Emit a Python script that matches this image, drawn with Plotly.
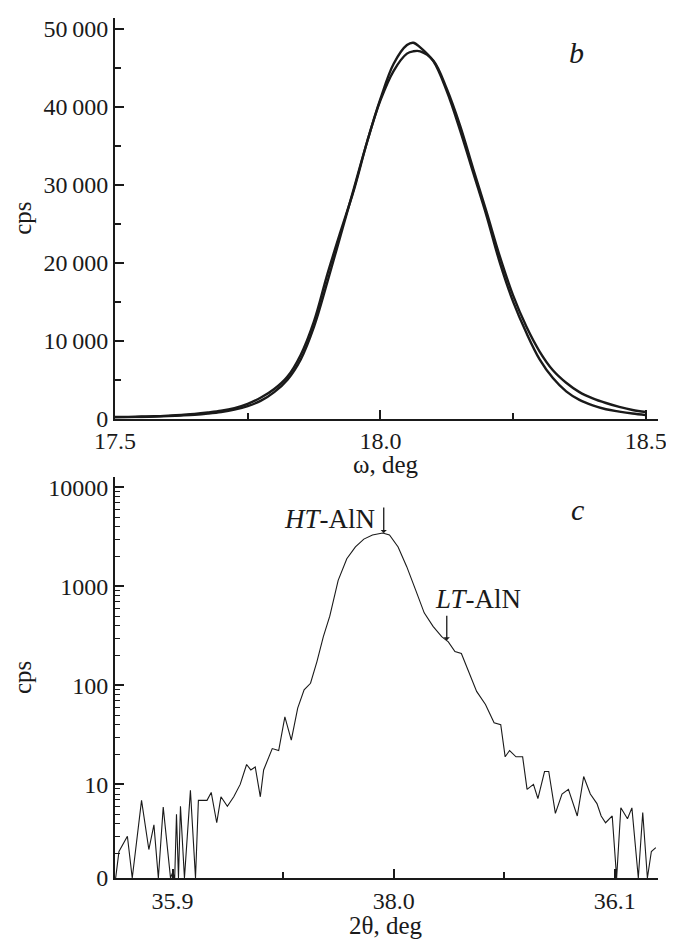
import math
import plotly.graph_objects as go
from plotly.subplots import make_subplots

# panel b : omega scans (two curves)
omega = [17.500, 17.525, 17.550, 17.575, 17.600, 17.625, 17.650, 17.675, 17.700,
         17.725, 17.750, 17.775, 17.800, 17.825, 17.850, 17.875, 17.900, 17.925,
         17.950, 17.975, 18.000, 18.025, 18.050, 18.062, 18.075, 18.100, 18.125,
         18.150, 18.175, 18.200, 18.225, 18.250, 18.275, 18.300, 18.325, 18.350,
         18.375, 18.400, 18.425, 18.450, 18.475, 18.500]
cps_b1 = [200, 220, 260, 300, 380, 480, 600, 780, 1000,
          1350, 1900, 2700, 3800, 5400, 8200, 12500, 18500, 24000,
          29300, 35500, 41000, 45500, 47900, 48200, 47600, 45800, 42000,
          37000, 31500, 26000, 20000, 15000, 11000, 7600, 5200, 3500,
          2400, 1700, 1200, 900, 650, 450]
cps_b2 = [150, 170, 200, 250, 320, 400, 500, 650, 850,
          1150, 1600, 2300, 3400, 5000, 7600, 11800, 17500, 23500,
          29500, 35500, 40800, 44600, 46800, 47100, 47100, 45900, 42300,
          37600, 32000, 26500, 20800, 15800, 11800, 8600, 6200, 4600,
          3400, 2600, 2000, 1500, 1100, 850]

# panel c : 2theta scan, counts (0 = no counts)
two_theta = [35.8743, 35.8758, 35.8796, 35.8818, 35.8860, 35.8893, 35.8916, 35.8936,
             35.8958, 35.8991, 35.9001, 35.9010, 35.9018, 35.9027, 35.9036, 35.9054,
             35.9081, 35.9104, 35.9117, 35.9156, 35.9175, 35.9200, 35.9219, 35.9248,
             35.9277, 35.9306, 35.9335, 35.9354, 35.9374, 35.9397, 35.9412, 35.9451,
             35.9480, 35.9508, 35.9537, 35.9566, 35.9595, 35.9624, 35.9653, 35.9682,
             35.9711, 35.9749, 35.9788, 35.9827, 35.9865, 35.9904, 35.9950, 35.9981,
             36.0020, 36.0059, 36.0099, 36.0138, 36.0178, 36.0217, 36.0247, 36.0277,
             36.0306, 36.0336, 36.0375, 36.0415, 36.0454, 36.0484, 36.0504, 36.0524,
             36.0553, 36.0583, 36.0603, 36.0632, 36.0652, 36.0682, 36.0701, 36.0731,
             36.0761, 36.0790, 36.0810, 36.0830, 36.0859, 36.0889, 36.0919, 36.0938,
             36.0958, 36.0988, 36.1008, 36.1027, 36.1057, 36.1077, 36.1106, 36.1126,
             36.1147, 36.1165, 36.1185]
cps_c = [0, 2.1, 3, 0, 6.9, 2.2, 3.9, 0,
         5.9, 0, 1.3, 0, 5, 0, 6, 0,
         8.7, 0, 6.9, 6.9, 8.3, 4.1, 7.5, 6,
         7.5, 10, 15.9, 14, 15, 7.5, 14, 23,
         22, 48, 28, 59, 90, 105, 174, 310,
         500, 1150, 1900, 2500, 3000, 3300, 3450, 3300,
         2500, 1580, 920, 540, 394, 310, 275, 220,
         210, 145, 87, 64, 42, 40, 19, 22,
         19, 19, 8.9, 10, 7.2, 13.5, 13.5, 5.1,
         8, 8.9, 6.4, 4.8, 12, 8, 6.4, 4.8,
         4.1, 4.8, 0, 5.8, 4.5, 5.8, 0, 5.2,
         0, 2.1, 2.3]

b_ticks = [0, 10000, 20000, 30000, 40000, 50000]
b_ticktext = ["0", "10\u2009000", "20\u2009000", "30\u2009000", "40\u2009000", "50\u2009000"]
c_ticks_x = [35.9, 36.0, 36.1]
c_ticktext_x = ["35.9", "38.0", "36.1"]
c_ticktext_y = ["0", "10", "100", "1000", "10000"]

y_lo = 0.055  # log10 of the "0" level on panel c
floor = 10 ** y_lo
cps_c_plot = [max(v, floor) for v in cps_c]

FONT = "Liberation Serif"
INK = "#1a1a1a"
fig = make_subplots(rows=2, cols=1, vertical_spacing=59 / 863)

for ys in (cps_b1, cps_b2):
    fig.add_trace(go.Scatter(x=omega, y=ys, mode="lines", line_shape="spline",
                             line=dict(color=INK, width=2.4)), row=1, col=1)
fig.add_trace(go.Scatter(x=two_theta, y=cps_c_plot, mode="lines",
                         line=dict(color=INK, width=1.1)), row=2, col=1)

axis_common = dict(showline=True, linecolor=INK, linewidth=2, showgrid=False,
                   zeroline=False, ticks="inside", tickcolor=INK, tickwidth=1.5,
                   ticklen=9, tickfont=dict(family=FONT, size=24, color=INK))
minor_style = dict(ticks="inside", ticklen=6, tickcolor=INK, tickwidth=1.5)

fig.update_xaxes(**axis_common, range=[17.5, 18.523], tickvals=[17.5, 18.0, 18.5],
                 ticktext=["17.5", "18.0", "18.5"], ticklabeloverflow="allow",
                 minor=dict(tickvals=[17.75, 18.25], **minor_style), row=1, col=1)
fig.update_yaxes(**axis_common, range=[0, 51370], tickvals=b_ticks, ticktext=b_ticktext,
                 minor=dict(tickvals=[5000, 15000, 25000, 35000, 45000], **minor_style),
                 row=1, col=1)

fig.update_xaxes(**axis_common, range=[35.874, 36.1195], tickvals=c_ticks_x,
                 ticktext=c_ticktext_x, ticklabeloverflow="allow",
                 minor=dict(tickvals=[35.95, 36.05], **minor_style), row=2, col=1)
minor_log = [k * 10 ** d for d in range(4) for k in range(2, 10)]
fig.update_yaxes(**axis_common, type="log", range=[y_lo, 4.1],
                 tickvals=[floor, 10, 100, 1000, 10000], ticktext=c_ticktext_y,
                 minor=dict(tickvals=minor_log, ticks="inside", ticklen=5,
                            tickcolor=INK, tickwidth=1),
                 row=2, col=1)

txt = dict(family=FONT, size=27, color=INK)
ttl = dict(family=FONT, size=25, color=INK)
centred = dict(xref="paper", yref="paper", xanchor="center", yanchor="middle",
               showarrow=False, font=ttl)
ann = [
    # axis titles
    dict(x=0.499, y=0.481, text="\u03c9, deg", **centred),
    dict(x=0.499, y=-0.0556, text="2\u03b8, deg", **centred),
    dict(x=-0.1706, y=0.767, text="cps", textangle=-90, **centred),
    dict(x=-0.1706, y=0.233, text="cps", textangle=-90, **centred),
    # panel letters and peak labels
    dict(x=18.370, y=46900, xref="x", yref="y", text="<i>b</i>", showarrow=False,
         font=dict(family=FONT, size=30, color=INK)),
    dict(x=36.0829, y=3.779, xref="x2", yref="y2", text="<i>c</i>", showarrow=False,
         font=dict(family=FONT, size=30, color=INK)),
    dict(x=35.9923, y=3.678, xref="x2", yref="y2", text="<i>HT</i>-AlN", showarrow=False,
         xanchor="right", font=txt),
    dict(x=36.0176, y=2.873, xref="x2", yref="y2", text="<i>LT</i>-AlN", showarrow=False,
         xanchor="left", font=txt),
    dict(x=35.9955, y=math.log10(3450), xref="x2", yref="y2", text="", showarrow=True,
         ax=0, ay=-27, arrowhead=1, arrowsize=0.8, arrowwidth=1.3, arrowcolor=INK),
    dict(x=36.0240, y=math.log10(285), xref="x2", yref="y2", text="", showarrow=True,
         ax=0, ay=-26, arrowhead=1, arrowsize=0.8, arrowwidth=1.3, arrowcolor=INK),
]

# the page body keeps an 8 px margin, so the figure is shifted by it
fig.update_layout(width=666, height=937, margin=dict(l=107, r=14, t=7, b=67),
                  paper_bgcolor="white", plot_bgcolor="white", showlegend=False,
                  annotations=ann, font=dict(family=FONT, color=INK))

fig.write_html("out.html")
